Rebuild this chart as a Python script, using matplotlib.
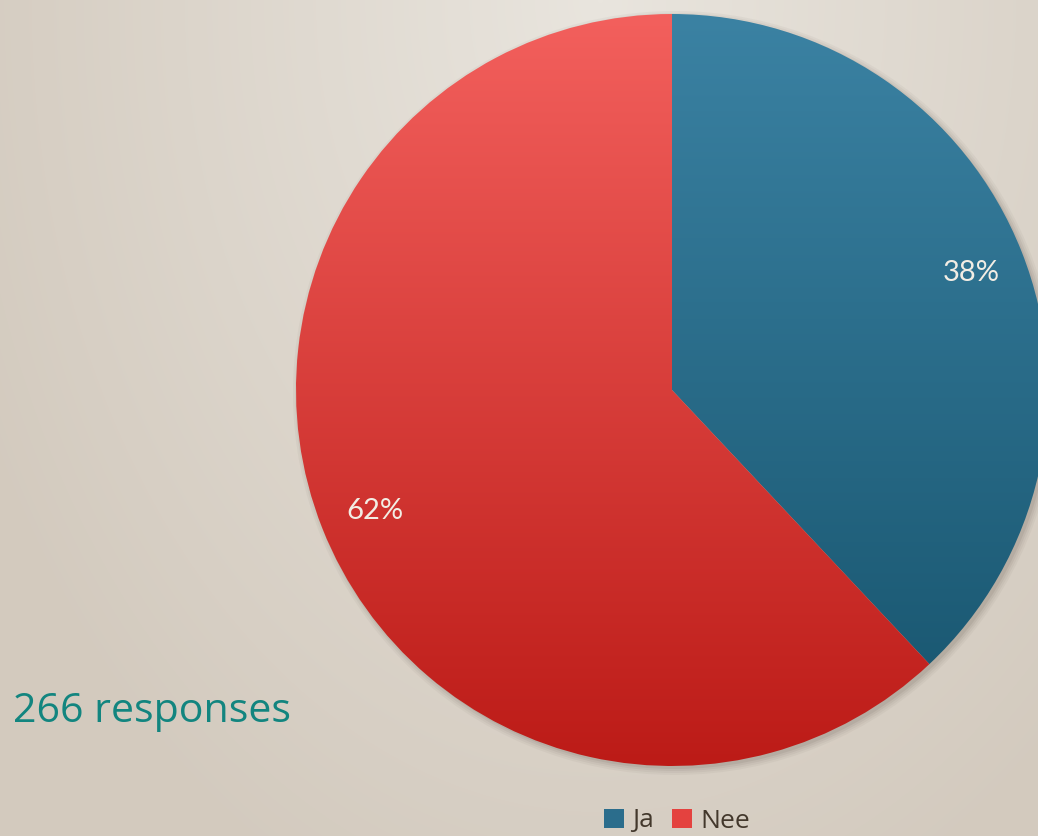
import numpy as np
import matplotlib.pyplot as plt
from matplotlib.patches import Circle, Patch
from matplotlib.colors import LinearSegmentedColormap

# data
labels = ['Ja', 'Nee']
shares = [38, 62]
pct_text = ['38%', '62%']
top_colors = ['#3b82a3', '#f3605d']
bottom_colors = ['#16536c', '#bc1b17']
responses = '266 responses'

W, H = 1038, 836
fig = plt.figure(figsize=(W / 100, H / 100), dpi=100)
ax = fig.add_axes([0, 0, 1, 1])

# beige background, lighter near the top middle
yy, xx = np.mgrid[0:H, 0:W]
d = np.sqrt(((xx - 600) / 700.0) ** 2 + ((yy - H) / 1000.0) ** 2)
bg = LinearSegmentedColormap.from_list('bg', ['#e9e5de', '#d3cabe'])
ax.imshow(d, cmap=bg, extent=(0, W, 0, H), origin='lower', vmin=0, vmax=1.0, zorder=0)

cx, cy, r = 672, H - 390, 376

# soft shadow
for i, a in enumerate([0.05, 0.06, 0.08, 0.1]):
    ax.add_patch(Circle((cx + 3, cy - 3), r + 6 - 2 * i, color='#5a5048', alpha=a, lw=0, zorder=1))

wedges, _ = ax.pie(shares, startangle=90, counterclock=False, center=(cx, cy), radius=r,
                   wedgeprops=dict(facecolor='none', edgecolor='none'), frame=True)
ax.set_xlim(0, W)
ax.set_ylim(0, H)
ax.set_aspect('auto')
ax.axis('off')

grad = np.linspace(0, 1, 256).reshape(-1, 1)
for w, c0, c1 in zip(wedges, top_colors, bottom_colors):
    cm = LinearSegmentedColormap.from_list('g', [c1, c0])
    im = ax.imshow(grad, cmap=cm, extent=(cx - r, cx + r, cy - r, cy + r),
                   origin='lower', aspect='auto', zorder=2)
    im.set_clip_path(w)

ax.text(971, H - 273, pct_text[0], color='#f2ede4', fontsize=21, family='Lato',
        ha='center', va='center', zorder=3)
ax.text(375, H - 511, pct_text[1], color='#f2ede4', fontsize=21, family='Lato',
        ha='center', va='center', zorder=3)

ax.text(13, H - 722, responses, color='#12857f', fontsize=29.6, family='Open Sans',
        ha='left', va='baseline', zorder=3)

handles = [Patch(facecolor=c, edgecolor='none') for c in ['#2b6d8c', '#e4423f']]
fig.legend(handles, labels, loc='center', bbox_to_anchor=(677 / W, 1 - 821 / H), ncol=2,
           frameon=False, labelcolor='#43382c', handlelength=0.75,
           handleheight=0.75, handletextpad=0.3, columnspacing=0.7,
           prop={'family': 'Open Sans', 'size': 19})

fig.savefig('out.png', dpi=100)
